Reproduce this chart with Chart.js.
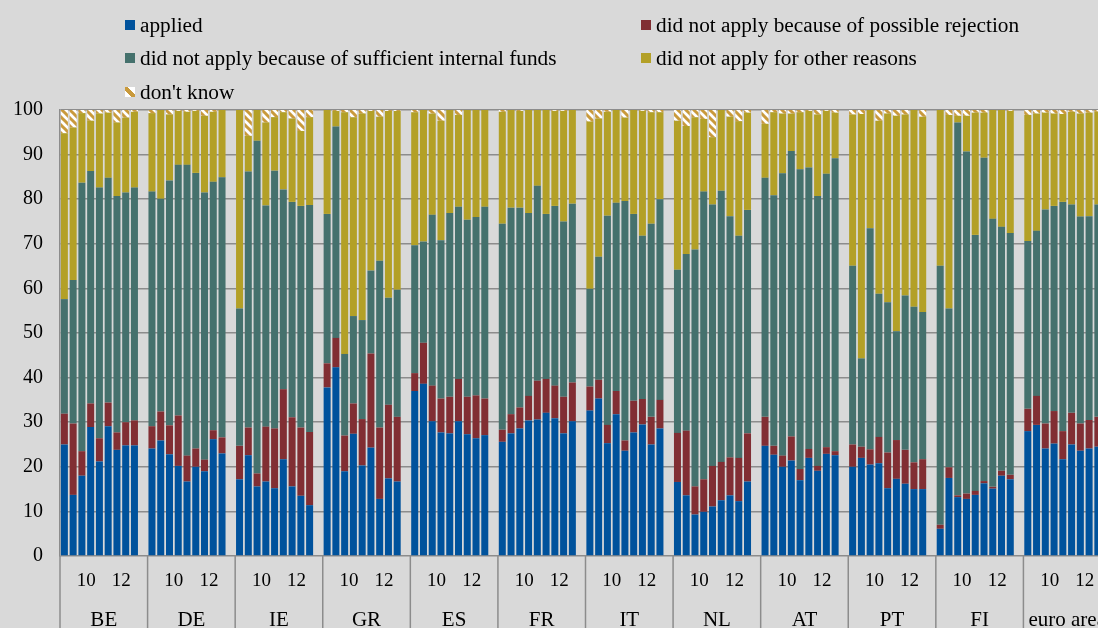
<!DOCTYPE html>
<html>
<head>
<meta charset="utf-8">
<script src="https://cdn.jsdelivr.net/npm/chart.js@4.4.0/dist/chart.umd.min.js"></script>
<style>
html, body { margin: 0; padding: 0; background: #d9d9d9; overflow: hidden; }
body { width: 1098px; height: 628px; position: relative; font-family: "Liberation Serif", "Times New Roman", serif; }
#chartWrap { position: absolute; left: 0; top: 0; width: 1116px; height: 628px; }
.leg { position: absolute; height: 22px; display: flex; align-items: center; font-size: 21.3px; color: #000; white-space: nowrap; }
.leg i { display: inline-block; width: 10px; height: 10px; margin-right: 5px; }
</style>
</head>
<body>
<div id="chartWrap"><canvas id="chart"></canvas></div>
<div id="legend"></div>
<script>
// countries along the x axis, 9 survey waves each
const countries = ['BE', 'DE', 'IE', 'GR', 'ES', 'FR', 'IT', 'NL', 'AT', 'PT', 'FI', 'euro area'];
const waves = ['09H1', '09H2', '10H1', '10H2', '11H1', '11H2', '12H1', '12H2', '13H1'];
// year labels sit between two waves: after wave index
const yearTicks = [{ after: 2, text: '10' }, { after: 6, text: '12' }];

const seriesNames = [
    'applied',
    'did not apply because of possible rejection',
    'did not apply because of sufficient internal funds',
    'did not apply for other reasons',
    "don't know"
];

// one row per country, 9 waves each
const applied = [
    25.0, 13.7, 18.0, 28.9, 21.2, 29.1, 23.8, 24.8, 24.8,
    24.1, 25.9, 22.8, 20.2, 16.7, 20.0, 19.0, 26.2, 23.0,
    17.2, 22.6, 15.6, 16.7, 15.2, 21.7, 15.6, 13.5, 11.4,
    37.8, 42.3, 19.0, 27.4, 20.3, 24.3, 12.8, 17.4, 16.7,
    37.0, 38.6, 30.2, 27.7, 27.5, 30.2, 27.3, 26.4, 27.1,
    25.6, 27.5, 28.6, 30.4, 30.6, 32.1, 30.9, 27.5, 30.2,
    32.6, 35.3, 25.3, 31.8, 23.6, 27.7, 29.5, 25.0, 28.6,
    16.6, 13.6, 9.3, 9.9, 11.1, 12.5, 13.6, 12.3, 16.7,
    24.7, 22.7, 20.0, 21.4, 17.0, 22.0, 19.1, 22.9, 22.6,
    20.0, 22.0, 20.5, 20.8, 15.2, 17.3, 16.2, 15.0, 15.0,
    6.1, 17.5, 13.2, 12.8, 13.7, 16.3, 15.1, 18.0, 17.2,
    28.0, 29.4, 24.1, 25.2, 21.7, 25.0, 23.6, 24.1, 24.5
];
const rejection = [
    6.9, 16.0, 5.5, 5.3, 5.2, 5.3, 3.9, 5.2, 5.6,
    5.0, 6.5, 6.5, 11.3, 5.8, 4.1, 2.6, 2.0, 3.6,
    7.5, 6.2, 2.9, 12.3, 13.4, 15.7, 15.5, 15.3, 16.4,
    5.4, 6.6, 8.0, 6.8, 10.4, 21.1, 16.0, 16.5, 14.5,
    4.0, 9.2, 8.0, 7.6, 8.2, 9.5, 8.4, 9.6, 8.2,
    2.7, 4.3, 4.7, 5.5, 8.7, 7.6, 7.3, 8.2, 8.7,
    5.4, 4.2, 4.1, 5.2, 2.3, 7.1, 5.7, 6.2, 6.4,
    11.0, 14.5, 6.3, 7.3, 9.1, 8.6, 8.5, 9.7, 10.8,
    6.5, 2.0, 2.5, 5.4, 2.5, 2.0, 1.1, 1.5, 0.9,
    5.0, 2.5, 3.4, 5.9, 8.0, 8.7, 7.6, 6.0, 6.7,
    0.9, 2.4, 0.4, 1.2, 0.9, 0.5, 0.4, 1.1, 1.0,
    5.0, 6.5, 5.6, 7.3, 6.3, 7.1, 6.1, 6.4, 6.7
];
const internalFunds = [
    25.7, 32.2, 60.2, 52.1, 56.2, 50.4, 53.0, 51.5, 52.2,
    52.6, 47.7, 54.9, 56.2, 65.2, 61.8, 59.9, 55.7, 58.3,
    30.8, 57.4, 74.6, 49.6, 57.8, 44.8, 48.3, 49.7, 50.9,
    33.5, 47.4, 18.3, 19.6, 22.2, 18.6, 37.4, 24.0, 28.5,
    28.7, 22.7, 38.3, 35.5, 41.2, 38.6, 39.7, 40.0, 43.0,
    46.2, 46.3, 44.8, 41.0, 43.7, 37.0, 40.3, 39.3, 40.1,
    21.9, 27.6, 46.9, 42.2, 53.7, 41.9, 36.6, 43.3, 45.0,
    36.6, 39.6, 53.1, 64.5, 58.6, 60.8, 54.1, 49.8, 50.1,
    53.6, 56.2, 63.3, 64.0, 67.2, 63.1, 60.5, 61.3, 65.7,
    40.1, 19.8, 49.6, 32.1, 33.7, 24.4, 34.6, 34.9, 33.0,
    58.1, 35.6, 83.6, 76.7, 57.4, 72.5, 60.1, 54.7, 54.2,
    37.6, 37.0, 48.0, 46.0, 51.4, 46.7, 46.4, 45.7, 47.6
];
const otherReasons = [
    37.2, 34.2, 15.6, 11.3, 16.6, 14.6, 16.5, 16.8, 17.0,
    17.6, 19.9, 14.8, 12.1, 11.9, 13.9, 17.2, 15.7, 15.1,
    44.5, 8.0, 6.9, 18.6, 12.0, 17.3, 18.7, 16.8, 19.7,
    23.3, 3.5, 54.2, 44.6, 46.3, 35.8, 32.3, 41.9, 40.1,
    29.8, 29.5, 22.7, 26.8, 23.1, 20.6, 24.6, 24.0, 21.7,
    25.1, 21.9, 21.7, 23.1, 17.0, 23.3, 21.3, 24.8, 21.0,
    37.5, 31.0, 23.3, 20.8, 18.7, 23.3, 28.0, 25.0, 19.5,
    33.4, 28.7, 29.7, 16.3, 15.1, 18.1, 22.3, 25.7, 21.8,
    12.1, 18.6, 13.4, 8.4, 12.8, 12.7, 18.3, 14.1, 10.2,
    33.9, 54.8, 26.5, 38.8, 42.3, 48.3, 40.6, 44.1, 43.8,
    34.9, 43.4, 1.5, 8.0, 27.4, 10.1, 24.4, 26.2, 27.4,
    28.3, 26.3, 21.7, 20.7, 19.7, 20.8, 23.1, 23.2, 20.8
];
const dontKnow = [
    5.2, 3.9, 0.7, 2.4, 0.8, 0.6, 2.8, 1.7, 0.4,
    0.7, 0.0, 1.0, 0.2, 0.4, 0.2, 1.3, 0.4, 0.0,
    0.0, 5.8, 0.0, 2.8, 1.6, 0.5, 1.9, 4.7, 1.6,
    0.0, 0.2, 0.5, 1.6, 0.8, 0.2, 1.5, 0.2, 0.2,
    0.5, 0.0, 0.8, 2.4, 0.0, 1.1, 0.0, 0.0, 0.0,
    0.4, 0.0, 0.2, 0.0, 0.0, 0.0, 0.2, 0.2, 0.0,
    2.6, 1.9, 0.4, 0.0, 1.7, 0.0, 0.2, 0.5, 0.5,
    2.4, 3.6, 1.6, 2.0, 6.1, 0.0, 1.5, 2.5, 0.6,
    3.1, 0.5, 0.8, 0.8, 0.5, 0.2, 1.0, 0.2, 0.6,
    1.0, 0.9, 0.0, 2.4, 0.8, 1.3, 1.0, 0.0, 1.5,
    0.0, 1.1, 1.3, 1.3, 0.6, 0.6, 0.0, 0.0, 0.2,
    1.1, 0.8, 0.6, 0.8, 0.9, 0.4, 0.8, 0.6, 0.4
];

const colors = ['#00529c', '#812e33', '#45716d', '#b3a027', null];
const stripeColor = '#c99a3c';
const gridColor = '#8c8c8c';

// each country gets 9 bars + one empty slot
const slotsPerGroup = waves.length + 1;

function expand(values) {
    const out = [];
    countries.forEach((c, g) => {
        for (let i = 0; i < waves.length; i++) out.push(values[g * waves.length + i]);
        out.push(null);
    });
    return out;
}

const labels = [];
countries.forEach(c => {
    waves.forEach(w => labels.push(c + ' ' + w));
    labels.push('');
});

function stripePattern() {
    const c = document.createElement('canvas');
    c.width = 8; c.height = 8;
    const g = c.getContext('2d');
    g.fillStyle = '#fff';
    g.fillRect(0, 0, 8, 8);
    g.strokeStyle = stripeColor;
    g.lineWidth = 3;
    g.beginPath();
    g.moveTo(-2, -2); g.lineTo(10, 10);
    g.moveTo(-2, 6); g.lineTo(2, 10);
    g.moveTo(6, -2); g.lineTo(10, 2);
    g.stroke();
    return g.createPattern(c, 'repeat');
}

// legend in two columns, as html text
const legendPos = [[125, 14], [641, 14], [125, 47], [641, 47], [125, 81]];
document.getElementById('legend').innerHTML = seriesNames.map((name, s) => {
    const bg = colors[s] ? colors[s] :
        `linear-gradient(45deg, #fff 30%, ${stripeColor} 30%, ${stripeColor} 65%, #fff 65%)`;
    return `<div class="leg" style="left:${legendPos[s][0]}px;top:${legendPos[s][1]}px"><i style="background:${bg}"></i>${name}</div>`;
}).join('');

// country separators and labels under the plot
const groupAxis = {
    id: 'groupAxis',
    afterDraw(chart) {
        const { ctx, chartArea } = chart;
        const x = chart.scales.x;
        const slot = x.getPixelForValue(1) - x.getPixelForValue(0);
        ctx.save();
        ctx.strokeStyle = gridColor;
        ctx.lineWidth = 1.5;
        ctx.fillStyle = '#000';
        ctx.textAlign = 'center';
        ctx.textBaseline = 'middle';
        countries.forEach((c, g) => {
            const start = x.getPixelForValue(g * slotsPerGroup) - slot / 2;
            ctx.beginPath();
            ctx.moveTo(start, chartArea.bottom);
            ctx.lineTo(start, chart.height);
            ctx.stroke();
            ctx.font = '19px "Liberation Serif"';
            yearTicks.forEach(t => {
                const px = x.getPixelForValue(g * slotsPerGroup + t.after) + slot / 2;
                ctx.fillText(t.text, px, chartArea.bottom + 25);
            });
            ctx.font = '21px "Liberation Serif"';
            ctx.fillText(c, start + slot * slotsPerGroup / 2, chartArea.bottom + 64);
        });
        ctx.restore();
    }
};

const stripes = stripePattern();
const seriesData = [applied, rejection, internalFunds, otherReasons, dontKnow];

new Chart(document.getElementById('chart'), {
    type: 'bar',
    data: {
        labels,
        datasets: seriesData.map((vals, s) => ({
            label: seriesNames[s],
            data: expand(vals),
            backgroundColor: colors[s] || stripes,
            borderWidth: 0,
            categoryPercentage: 1,
            barPercentage: 0.8
        }))
    },
    options: {
        responsive: true,
        maintainAspectRatio: false,
        animation: false,
        layout: { padding: { left: 0, right: 5, top: 110, bottom: 72 } },
        scales: {
            x: { stacked: true, display: false },
            y: {
                stacked: true,
                min: 0, max: 100,
                afterFit(scale) { scale.width = 60; },
                ticks: { stepSize: 10, padding: 17, color: '#000', font: { family: 'Liberation Serif', size: 20 } },
                grid: { color: gridColor, lineWidth: 1.5, drawTicks: false },
                border: { color: gridColor, width: 1.5 }
            }
        },
        plugins: { legend: { display: false }, tooltip: { enabled: false } }
    },
    plugins: [groupAxis]
});
</script>
</body>
</html>
